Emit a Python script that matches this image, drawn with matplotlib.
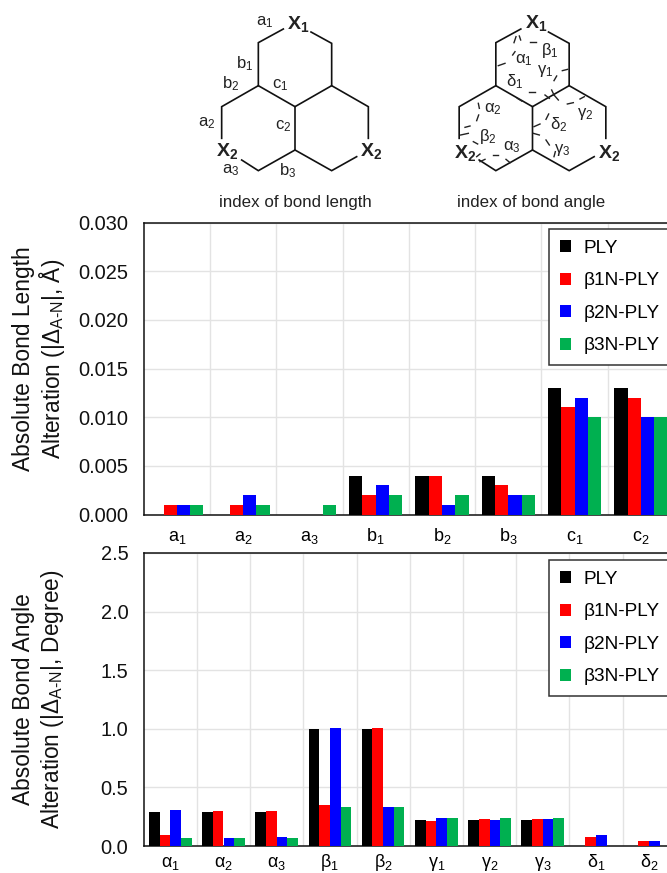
import numpy as np
import matplotlib
matplotlib.use('Agg')
import matplotlib.pyplot as plt

plt.rcParams['font.family'] = ['Liberation Sans', 'DejaVu Sans']
plt.rcParams['mathtext.fontset'] = 'custom'
plt.rcParams['mathtext.rm'] = 'Liberation Sans'
plt.rcParams['mathtext.it'] = 'Liberation Sans'
plt.rcParams['mathtext.bf'] = 'Liberation Sans:bold'
plt.rcParams['mathtext.default'] = 'regular'

W, H = 667, 873

seriesNames = ['PLY', 'β1N-PLY', 'β2N-PLY', 'β3N-PLY']
colors = ['#000000', '#ff0000', '#0000ff', '#00b050']

lengthLabels = ['a$_1$', 'a$_2$', 'a$_3$', 'b$_1$', 'b$_2$', 'b$_3$', 'c$_1$', 'c$_2$']
lengthPLY = [0, 0, 0, 0.004, 0.004, 0.004, 0.013, 0.013]
lengthB1 = [0.001, 0.001, 0, 0.002, 0.004, 0.003, 0.011, 0.012]
lengthB2 = [0.001, 0.002, 0, 0.003, 0.001, 0.002, 0.012, 0.010]
lengthB3 = [0.001, 0.001, 0.001, 0.002, 0.002, 0.002, 0.010, 0.010]
lengthTicks = [0, 0.005, 0.010, 0.015, 0.020, 0.025, 0.030]

angleLabels = ['α$_1$', 'α$_2$', 'α$_3$', 'β$_1$', 'β$_2$', 'γ$_1$', 'γ$_2$', 'γ$_3$', 'δ$_1$', 'δ$_2$']
anglePLY = [0.29, 0.29, 0.29, 1.00, 1.00, 0.22, 0.22, 0.22, 0, 0]
angleB1 = [0.09, 0.30, 0.30, 0.35, 1.01, 0.21, 0.23, 0.23, 0.08, 0.04]
angleB2 = [0.31, 0.065, 0.08, 1.01, 0.335, 0.24, 0.22, 0.23, 0.095, 0.04]
angleB3 = [0.065, 0.065, 0.065, 0.335, 0.335, 0.24, 0.24, 0.24, 0, 0]
angleTicks = [0, 0.5, 1.0, 1.5, 2.0, 2.5]


def makeAxes(left, top, right, bottom):
	return fig.add_axes([left/W, 1-bottom/H, (right-left)/W, (bottom-top)/H])


def plotBars(ax, labels, series, ticks, fmt, legendTop, labelPad):
	x = np.arange(len(labels))
	width = 0.2
	for i, vals in enumerate(series):
		ax.bar(x+(i-1.5)*width, vals, width, color=colors[i], label=seriesNames[i], zorder=3)
	ax.set_xlim(-0.5, len(labels)-0.5)
	ax.set_ylim(ticks[0], ticks[-1])
	ax.set_xticks(x)
	ax.set_xticklabels(labels, fontsize=13, va='baseline')
	ax.set_yticks(ticks)
	ax.set_yticklabels([fmt % t for t in ticks], fontsize=14.4, color='#111111')
	ax.set_xticks(x[:-1]+0.5, minor=True)
	ax.grid(True, which='minor', axis='x', color='#e3e3e3', lw=1, zorder=0)
	ax.grid(True, which='major', axis='y', color='#e3e3e3', lw=1, zorder=0)
	ax.tick_params(which='both', length=0)
	ax.tick_params(axis='x', pad=labelPad)
	ax.tick_params(axis='y', pad=11)
	for s in ['left', 'bottom', 'top']:
		ax.spines[s].set_linewidth(1.1)
		ax.spines[s].set_color('#111111')
	ax.spines['right'].set_visible(False)
	leg = ax.legend(loc='upper left', bbox_to_anchor=(549/W, 1-legendTop/H), bbox_transform=fig.transFigure,
		borderaxespad=0, fontsize=13.7, fancybox=False, framealpha=1, edgecolor='#333333',
		handlelength=0.6, handleheight=0.6, handletextpad=0.65, labelspacing=0.82, borderpad=0.56)
	leg.get_frame().set_linewidth(1.1)
	leg.set_zorder(5)


fig = plt.figure(figsize=(W/100, H/100), dpi=100)

ax1 = makeAxes(143.7, 222.5, 674, 514.5)
plotBars(ax1, lengthLabels, [lengthPLY, lengthB1, lengthB2, lengthB3], lengthTicks, '%.3f', 229, 19)

ax2 = makeAxes(143.7, 553, 675.7, 846)
plotBars(ax2, angleLabels, [anglePLY, angleB1, angleB2, angleB3], angleTicks, '%.1f', 560, 15)

fig.text(24/W, 1-359/H, 'Absolute Bond Length', rotation=90, ha='center', va='center', fontsize=16.4, color='#111111')
fig.text(52/W, 1-359/H, 'Alteration (|Δ$_{A\\text{-}N}$|, Å)', rotation=90, ha='center', va='center', fontsize=16.3, color='#111111')
fig.text(24/W, 1-699/H, 'Absolute Bond Angle', rotation=90, ha='center', va='center', fontsize=16.4, color='#111111')
fig.text(52/W, 1-699/H, 'Alteration (|Δ$_{A\\text{-}N}$|, Degree)', rotation=90, ha='center', va='center', fontsize=16.3, color='#111111')

# schematic molecules on top, in pixel coordinates of the image
sk = fig.add_axes([0, 0, 1, 1], zorder=10)
sk.set_xlim(0, W)
sk.set_ylim(H, 0)
sk.axis('off')
sk.patch.set_alpha(0)

def hexLines(x0):
	paths = [
		[(235, 257), (235, 128), (310, 87)],
		[(393, 96), (455, 130), (455, 257), (345, 320), (235, 257), (125, 320), (125, 415)],
		[(185, 480), (235, 512), (345, 450), (345, 320)],
		[(455, 257), (565, 320), (565, 415)],
		[(345, 450), (455, 512), (530, 470)],
	]
	for p in paths:
		p = np.array(p)/3
		sk.plot(p[:, 0]+x0, p[:, 1], color='#111111', lw=1.2, solid_joinstyle='miter')

hexLines(180)
hexLines(417.5)

def skText(x, y, s, size=12, bold=False):
	sk.text(x, y, s, fontsize=size, ha='center', va='center', color='#222222', fontweight='bold' if bold else 'normal')

bondIndex = [('a$_1$', 265, 22), ('b$_1$', 245, 64), ('b$_2$', 231, 84), ('c$_1$', 280, 85),
	('a$_2$', 207, 123), ('c$_2$', 283, 126), ('a$_3$', 231, 170), ('b$_3$', 288, 171)]
for s, x, y in bondIndex:
	skText(x, y, s)
skText(298, 24, 'X$_1$', 14, True)
skText(227, 151, 'X$_2$', 14, True)
skText(371, 151, 'X$_2$', 14, True)
skText(295, 202, 'index of bond length', 12.2)

angleIndex = [('α$_1$', 524, 60), ('β$_1$', 550, 51), ('γ$_1$', 545, 71), ('δ$_1$', 515, 82),
	('α$_2$', 493, 109), ('β$_2$', 488, 137), ('α$_3$', 512, 147), ('γ$_2$', 585, 114),
	('δ$_2$', 559, 125), ('γ$_3$', 562, 150)]
for s, x, y in angleIndex:
	skText(x, y, s)
skText(536, 23, 'X$_1$', 14, True)
skText(465, 153, 'X$_2$', 14, True)
skText(609, 153, 'X$_2$', 14, True)
skText(531, 202, 'index of bond angle', 12.2)

arcDashes = [
	[(252, 128), (258, 110)], [(268, 108), (272, 120)], [(300, 125), (318, 125)], [(205, 197), (225, 190)],
	[(248, 165), (255, 155)], [(397, 212), (413, 208)], [(372, 242), (380, 228)], [(296, 276), (316, 276)],
	[(262, 295), (275, 303)], [(345, 285), (358, 295)], [(365, 270), (372, 285)], [(372, 285), (385, 300)],
	[(412, 312), (430, 308)], [(450, 297), (463, 290)], [(348, 358), (356, 342)], [(312, 380), (330, 372)],
	[(310, 400), (328, 405)], [(348, 420), (358, 435)], [(372, 470), (376, 455)], [(145, 310), (148, 325)],
	[(140, 362), (146, 345)], [(105, 382), (120, 378)], [(92, 405), (115, 400)], [(130, 425), (143, 432)],
	[(140, 470), (150, 462)], [(150, 485), (165, 478)], [(188, 466), (205, 466)], [(228, 478), (240, 488)],
]
for d in arcDashes:
	d = np.array(d)/3
	sk.plot(d[:, 0]+430, d[:, 1], color='#222222', lw=1)

fig.savefig('out.png', format='png', dpi=100)
